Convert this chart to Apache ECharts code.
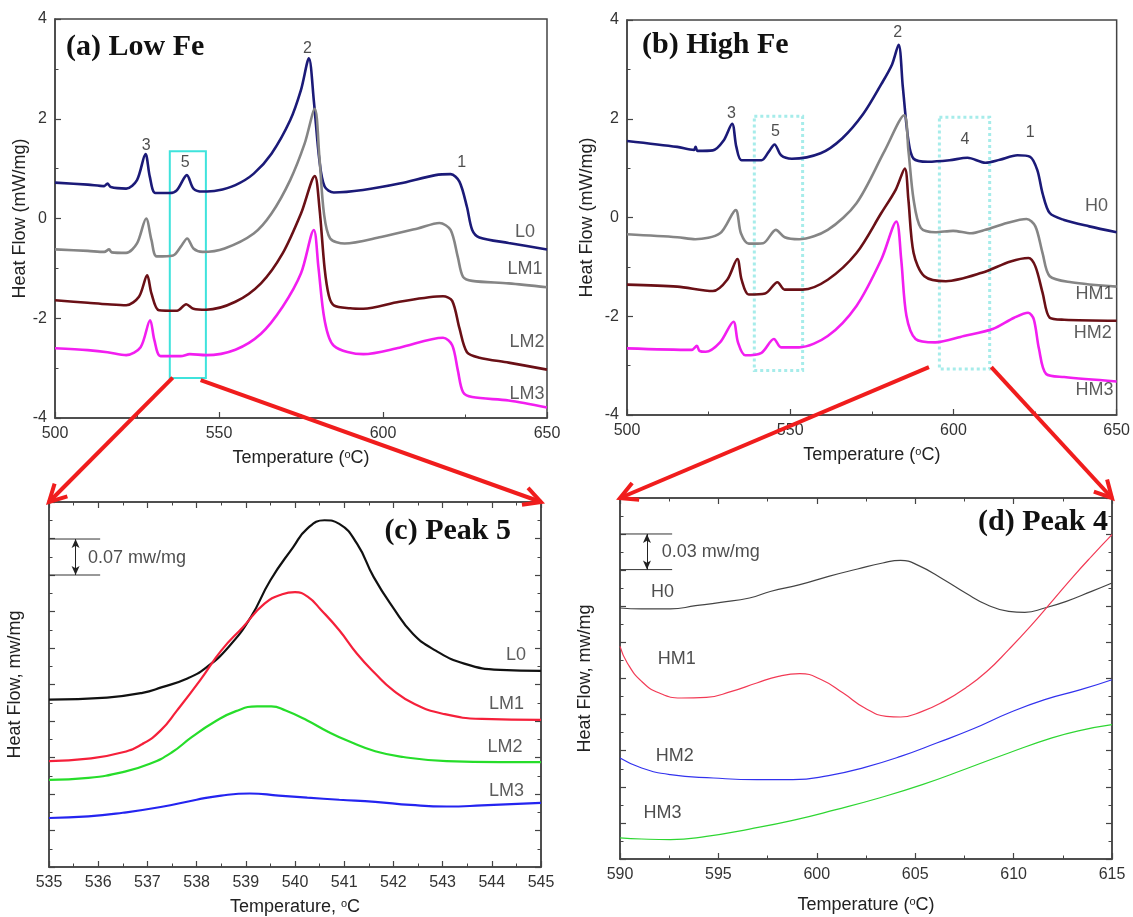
<!DOCTYPE html>
<html>
<head>
<meta charset="utf-8">
<script src="https://cdn.jsdelivr.net/npm/echarts@6/dist/echarts.min.js"></script>
<style>
html, body { margin: 0; padding: 0; background: #fff; }
#main { width: 1133px; height: 917px; }
</style>
</head>
<body>
<div id="main"></div>
<script>
// (a) Low Fe  -- [temperature °C, heat flow mW/mg]
const aL0 = [[500,0.72],[510,0.68],[515,0.65],[516,0.7],[517,0.63],[521.7,0.6],[525,0.77],[527.6,1.29],[528.9,0.84],[530.6,0.51],[535,0.51],[537.2,0.57],[540.2,0.87],[542.2,0.6],[545,0.54],[549.4,0.56],[555,0.67],[560.6,0.9],[566,1.3],[571.7,1.97],[575,2.58],[577.4,3.21],[578.9,2.37],[580.6,1.17],[582.2,0.64],[585,0.52],[593.9,0.57],[605,0.7],[616,0.87],[620.6,0.89],[623.3,0.74],[625.6,0.23],[627.2,-0.23],[629.4,-0.38],[638.3,-0.49],[650,-0.62]];
const aLM1 = [[500,-0.62],[510,-0.65],[515,-0.67],[516.5,-0.62],[517.3,-0.68],[521.7,-0.69],[525,-0.5],[527.8,0.0],[529.4,-0.43],[531,-0.76],[536,-0.74],[538.3,-0.57],[540.3,-0.4],[542.2,-0.6],[545,-0.67],[551.7,-0.6],[560.6,-0.3],[566,0.1],[571.7,0.77],[576.1,1.5],[579.2,2.2],[580.6,1.24],[582,0.1],[583.9,-0.4],[588.3,-0.5],[599.4,-0.37],[610.6,-0.2],[617.2,-0.09],[620.6,-0.23],[622.8,-0.77],[624.4,-1.17],[627.2,-1.25],[638.3,-1.3],[650,-1.38]];
const aLM2 = [[500,-1.64],[510,-1.69],[516,-1.72],[521.7,-1.74],[525.6,-1.57],[528.1,-1.14],[529.4,-1.5],[531.7,-1.84],[537.2,-1.85],[540,-1.72],[542.2,-1.81],[546.1,-1.83],[555,-1.67],[562.8,-1.3],[569.4,-0.7],[575,0.1],[579.2,0.85],[580.6,0.23],[582.2,-1.0],[583.5,-1.55],[585,-1.74],[590,-1.8],[594,-1.81],[605,-1.67],[618.3,-1.56],[621.1,-1.65],[623.3,-2.2],[625.6,-2.68],[629.4,-2.79],[638.3,-2.89],[650,-3.03]];
const aLM3 = [[500,-2.6],[510,-2.64],[516,-2.68],[521.7,-2.74],[526.1,-2.58],[529,-2.04],[530.3,-2.44],[532.2,-2.76],[538.3,-2.76],[541.1,-2.72],[546.1,-2.74],[555,-2.63],[562.8,-2.31],[569.4,-1.77],[575,-1.1],[578.9,-0.23],[580.3,-0.97],[582.2,-2.04],[585,-2.55],[594,-2.72],[605,-2.59],[618.3,-2.39],[621.1,-2.54],[622.8,-3.04],[624.4,-3.48],[627.2,-3.58],[638.3,-3.65],[650,-3.79]];

// (b) High Fe
const bH0 = [[500,1.55],[515.4,1.43],[520.5,1.37],[521,1.43],[521.6,1.35],[526.3,1.36],[529.6,1.56],[532.2,1.9],[533.5,1.43],[535.1,1.16],[541.2,1.16],[543.4,1.33],[545.2,1.48],[547.2,1.26],[550.5,1.19],[559.3,1.3],[565.9,1.6],[572.4,2.1],[577.9,2.7],[581.2,3.1],[583.2,3.5],[584.5,2.64],[586.2,1.56],[587.8,1.19],[592.2,1.13],[598.8,1.16],[604.3,1.21],[609.8,1.11],[614.2,1.17],[619.6,1.26],[623.5,1.23],[625.7,0.96],[627.3,0.49],[629.5,0.09],[633.9,-0.05],[641.6,-0.18],[650,-0.3]];
const bHM1 = [[500,-0.34],[515.4,-0.4],[520.9,-0.44],[528.5,-0.32],[533.3,0.15],[534.9,-0.32],[537.3,-0.53],[541.7,-0.52],[545.6,-0.25],[548.3,-0.4],[552.7,-0.44],[561.5,-0.25],[570.3,0.29],[579,1.36],[584.9,2.07],[586.2,1.36],[587.8,0.36],[590,-0.21],[594.4,-0.3],[599.9,-0.27],[605.4,-0.32],[609.8,-0.25],[616.4,-0.11],[622.4,-0.03],[625.1,-0.18],[627.3,-0.72],[629.5,-1.19],[636.1,-1.31],[650,-1.4]];
const bHM2 = [[500,-1.36],[515.4,-1.4],[526.3,-1.49],[530.7,-1.26],[533.8,-0.84],[535.1,-1.26],[537.3,-1.56],[542.3,-1.54],[546.1,-1.31],[548.3,-1.46],[553.8,-1.46],[561.5,-1.26],[570.3,-0.72],[577.9,0.09],[582.3,0.56],[585.1,0.99],[586.2,0.36],[587.8,-0.72],[591.1,-1.19],[597.7,-1.29],[608.7,-1.12],[617.5,-0.89],[623,-0.82],[625.1,-0.99],[627.3,-1.52],[629.5,-2.03],[633.9,-2.07],[650,-2.09]];
const bHM3 = [[500,-2.65],[519.8,-2.68],[521.4,-2.6],[522.2,-2.7],[524.1,-2.72],[528.5,-2.53],[532.6,-2.11],[534,-2.53],[536.2,-2.79],[541.2,-2.74],[545,-2.46],[547.2,-2.63],[552.7,-2.63],[561.5,-2.4],[570.3,-1.79],[577.9,-0.85],[582.5,-0.08],[584,-0.85],[585.6,-1.99],[588.4,-2.46],[594.4,-2.53],[603.2,-2.4],[612,-2.26],[618.6,-2.03],[622.9,-1.93],[624.6,-2.06],[626.2,-2.66],[628.4,-3.17],[633.9,-3.23],[650,-3.32]];

// (c) Peak 5 (offset curves)
const cL0 = [[535,0.321],[536.18,0.325],[536.9,0.334],[537.3,0.345],[537.8,0.361],[538.2,0.383],[538.65,0.422],[539.1,0.479],[539.5,0.55],[539.96,0.613],[540.25,0.649],[540.6,0.665],[540.9,0.658],[541.26,0.62],[541.6,0.556],[541.99,0.498],[542.4,0.447],[542.86,0.415],[543.44,0.39],[544.17,0.378],[545,0.376]];
const cLM1 = [[535,0.203],[535.8,0.208],[536.5,0.22],[536.9,0.236],[537.27,0.262],[537.6,0.3],[538.07,0.358],[538.5,0.415],[538.94,0.46],[539.38,0.505],[539.74,0.523],[540,0.527],[540.25,0.519],[540.54,0.492],[540.9,0.454],[541.26,0.409],[541.63,0.371],[541.99,0.339],[542.42,0.313],[543,0.294],[543.8,0.284],[545,0.282]];
const cLM2 = [[535,0.167],[535.8,0.171],[536.5,0.182],[537.05,0.198],[537.5,0.22],[537.9,0.249],[538.36,0.278],[538.8,0.299],[539.23,0.308],[539.52,0.308],[539.81,0.3],[540.25,0.281],[540.68,0.259],[541.12,0.24],[541.63,0.222],[542.2,0.211],[543.08,0.203],[544.17,0.201],[545,0.201]];
const cLM3 = [[535,0.094],[535.8,0.097],[536.5,0.104],[537.27,0.115],[538,0.129],[538.5,0.137],[539.08,0.141],[539.67,0.137],[540.25,0.133],[540.9,0.129],[541.63,0.125],[542.35,0.119],[543.08,0.116],[543.8,0.118],[545,0.123]];

// (d) Peak 4 (offset curves)
const dH0 = [[590,0.2086],[591.1,0.2078],[592.56,0.2078],[593.84,0.2105],[595.12,0.2133],[596.58,0.2169],[597.68,0.2225],[599.14,0.228],[600.6,0.2349],[602.07,0.241],[603.35,0.246],[604.26,0.2482],[605.18,0.2438],[606.46,0.2321],[607.56,0.221],[608.65,0.2113],[609.75,0.2058],[610.57,0.205],[611.58,0.2086],[612.68,0.2141],[613.96,0.2224],[615,0.2294]];
const dHM1 = [[590,0.1767],[590.37,0.1629],[591.1,0.1476],[592,0.1379],[593.1,0.1338],[594.39,0.1343],[595.67,0.1393],[596.95,0.1463],[598.05,0.1518],[599.14,0.154],[600.24,0.149],[601.34,0.1379],[602.44,0.1255],[603.53,0.1186],[604.26,0.118],[605.36,0.1227],[606.46,0.131],[607.56,0.1421],[608.65,0.156],[609.75,0.174],[610.85,0.1933],[611.95,0.2141],[613.04,0.2349],[613.96,0.2515],[615,0.2695]];
const dHM2 = [[590,0.0839],[591.1,0.0756],[592.56,0.0701],[594.75,0.0673],[596.95,0.0659],[598.78,0.0659],[600.6,0.0693],[602.44,0.0762],[604.26,0.0853],[606.09,0.0964],[607.92,0.108],[609.75,0.1213],[611.58,0.1324],[613.41,0.1407],[615,0.149]];
const dHM3 = [[590,0.0175],[591.1,0.0166],[592.56,0.0161],[594.39,0.0188],[596.58,0.0249],[598.78,0.0321],[600.97,0.041],[603.17,0.0507],[605.36,0.0618],[607.56,0.0748],[609.75,0.0881],[611.95,0.1006],[613.41,0.1069],[615,0.1116]];

// text tags [text, x, y]
const aTags = [['L0',643.3,-0.28],['LM1',643.3,-1.02],['LM2',643.9,-2.47],['LM3',643.9,-3.51]];
const aPeaks = [['3',527.8,1.47],['5',539.7,1.12],['2',577,3.41],['1',624,1.12]];
const bTags = [['H0',643.8,0.23],['HM1',643.2,-1.54],['HM2',642.7,-2.33],['HM3',643.2,-3.5]];
const bPeaks = [['3',532,2.1],['5',545.5,1.75],['2',582.9,3.75],['4',603.5,1.58],['1',623.5,1.71]];
const cTags = [['L0',544.49,0.406],['LM1',544.3,0.313],['LM2',544.27,0.23],['LM3',544.3,0.145]];
const dTags = [['H0',592.16,0.2216],['HM1',592.89,0.166],['HM2',592.78,0.0853],['HM3',592.16,0.0382]];

// zoom windows [x0, y0, x1, y1]
const aBox5 = [535, 1.35, 546, -3.2];
const bBox5 = [539, 2.05, 553.8, -3.1];
const bBox4 = [595.7, 2.03, 611.1, -3.07];

// scale bars: [x0, x1, xArrow, yTop, yBottom, textX, textY]
const cBar = [535, 536.04, 535.54, 0.629, 0.560, 535.78, 0.593];
const dBar = [590, 592.65, 591.37, 0.2701, 0.2405, 592.1, 0.2548];

// red zoom arrows: [fromGrid, x, y, toGrid, x, y]
const zoomArrows = [
  [0, 535.9, -3.19, 2, 535, 0.7],
  [0, 544.4, -3.24, 2, 545, 0.7],
  [1, 592.5, -3.03, 3, 590, 0.3],
  [1, 611.6, -3.03, 3, 615, 0.3]
];

const SANS = 'Liberation Sans';
const SERIF = 'Liberation Serif';
const AX = '#444';

const chart = echarts.init(document.getElementById('main'));

function axis(gi, min, max, interval, extra) {
  return Object.assign({
    type: 'value', gridIndex: gi, min: min, max: max, interval: interval,
    axisLine: { show: true, onZero: false, lineStyle: { color: AX, width: 1.5 } },
    axisTick: { show: true, inside: true, length: 6, lineStyle: { color: AX, width: 1.2 } },
    minorTick: { show: true, splitNumber: 2, length: 3.5, lineStyle: { color: AX, width: 1 } },
    splitLine: { show: false },
    axisLabel: { color: '#333', fontSize: 16, fontFamily: SANS, margin: 8 },
    nameLocation: 'middle',
    nameTextStyle: { color: '#222', fontSize: 18, fontFamily: SANS,
      rich: { s: { fontSize: 11, fontFamily: SANS, color: '#222', verticalAlign: 'top' } } }
  }, extra);
}
const noLab = { axisLabel: { show: false } };

const xAxes = [
  axis(0, 500, 650, 50, { name: 'Temperature ({s|o}C)', nameGap: 31 }),
  axis(1, 500, 650, 50, { name: 'Temperature ({s|o}C)', nameGap: 31 }),
  axis(2, 535, 545, 1, { name: 'Temperature, {s|o}C', nameGap: 31 }),
  axis(3, 590, 615, 5, { name: 'Temperature ({s|o}C)', nameGap: 37 }),
  axis(2, 535, 545, 1, Object.assign({ position: 'top' }, noLab)),
  axis(3, 590, 615, 5, Object.assign({ position: 'top' }, noLab))
];
const yAxes = [
  axis(0, -4, 4, 2, { name: 'Heat Flow (mW/mg)', nameGap: 26 }),
  axis(1, -4, 4, 2, { name: 'Heat Flow (mW/mg)', nameGap: 31 }),
  axis(2, 0, 0.7, 0.07, Object.assign({ name: 'Heat Flow, mw/mg', nameGap: 25 }, noLab)),
  axis(3, 0, 0.3, 0.03, Object.assign({ name: 'Heat Flow, mw/mg', nameGap: 26 }, noLab)),
  axis(2, 0, 0.7, 0.07, Object.assign({ position: 'right' }, noLab)),
  axis(3, 0, 0.3, 0.03, Object.assign({ position: 'right' }, noLab))
];

const series = [];
function curve(data, color, gi, width, smooth, extra) {
  series.push(Object.assign({
    type: 'line', data: data, xAxisIndex: gi, yAxisIndex: gi,
    showSymbol: false, symbol: 'none', smooth: smooth,
    lineStyle: { color: color, width: width }, silent: true, z: 3
  }, extra || {}));
}
function tags(list, gi, size, color) {
  series.push({
    type: 'scatter', xAxisIndex: gi, yAxisIndex: gi, symbolSize: 1, silent: true, z: 5,
    itemStyle: { color: 'transparent' },
    data: list.map(t => ({ value: [t[1], t[2]], name: t[0] })),
    label: { show: true, position: 'inside', formatter: p => p.name,
      fontSize: size, color: color, fontFamily: SANS }
  });
}
function boxArea(b) {
  return [[{ coord: [b[0], b[1]] }, { coord: [b[2], b[3]] }]];
}
function scaleBar(bar, gi, text) {
  const ln = { color: '#333', width: 1 };
  series.push({ type: 'line', xAxisIndex: gi, yAxisIndex: gi, symbol: 'none', silent: true,
    data: [[bar[0], bar[3]], [bar[1], bar[3]]], lineStyle: ln,
    markLine: { silent: true, symbol: ['arrow', 'arrow'], symbolSize: [6, 9], label: { show: false },
      lineStyle: { color: '#222', width: 1, type: 'solid' },
      data: [[{ coord: [bar[2], bar[3]] }, { coord: [bar[2], bar[4]] }]] } });
  series.push({ type: 'line', xAxisIndex: gi, yAxisIndex: gi, symbol: 'none', silent: true,
    data: [[bar[0], bar[4]], [bar[1], bar[4]]], lineStyle: ln });
  series.push({ type: 'scatter', xAxisIndex: gi, yAxisIndex: gi, symbolSize: 1, silent: true,
    itemStyle: { color: 'transparent' },
    data: [{ value: [bar[5], bar[6]], name: text }],
    label: { show: true, position: 'right', distance: 0, formatter: p => p.name,
      fontSize: 18, color: '#222', fontFamily: SANS } });
}

// (a)
curve(aL0, '#1b1a78', 0, 2.6, 0.3, {
  markArea: { silent: true, itemStyle: { color: 'rgba(0,0,0,0)', borderColor: '#3fe3dc', borderWidth: 2 },
    data: boxArea(aBox5) } });
curve(aLM1, '#858585', 0, 2.6, 0.3);
curve(aLM2, '#6a1016', 0, 2.6, 0.3);
curve(aLM3, '#f21ef0', 0, 2.6, 0.3);
tags(aTags, 0, 18, '#333');
tags(aPeaks, 0, 16, '#222');

// (b)
curve(bH0, '#1b1a78', 1, 2.6, 0.3, {
  markArea: { silent: true,
    itemStyle: { color: 'rgba(0,0,0,0)', borderColor: '#a6ecea', borderWidth: 3, borderType: 'dotted' },
    data: boxArea(bBox5).concat(boxArea(bBox4)) } });
curve(bHM1, '#858585', 1, 2.6, 0.3);
curve(bHM2, '#6a1016', 1, 2.6, 0.3);
curve(bHM3, '#f21ef0', 1, 2.6, 0.3);
tags(bTags, 1, 18, '#333');
tags(bPeaks, 1, 16, '#222');

// (c)
curve(cL0, '#111111', 2, 2.2, 0.5);
curve(cLM1, '#f5203a', 2, 2.2, 0.5);
curve(cLM2, '#26dd2a', 2, 2.2, 0.5);
curve(cLM3, '#2424f0', 2, 2.2, 0.5);
tags(cTags, 2, 18, '#333');
scaleBar(cBar, 2, '0.07 mw/mg');

// (d)
curve(dH0, '#444444', 3, 1.2, 0.5);
curve(dHM1, '#f23a55', 3, 1.2, 0.5);
curve(dHM2, '#3232ee', 3, 1.2, 0.5);
curve(dHM3, '#2ed632', 3, 1.2, 0.5);
tags(dTags, 3, 18, '#222');
scaleBar(dBar, 3, '0.03 mw/mg');

const titleStyle = { fontFamily: SERIF, fontWeight: 'bold', fontSize: 30, color: '#111' };

chart.setOption({
  animation: false,
  backgroundColor: '#fff',
  title: [
    { text: '(a) Low Fe', left: 66, top: 32, padding: 0, textStyle: titleStyle },
    { text: '(b) High Fe', left: 642, top: 30, padding: 0, textStyle: titleStyle },
    { text: '(c) Peak 5', right: 622, top: 516, padding: 0, textStyle: titleStyle },
    { text: '(d) Peak 4', right: 25, top: 507, padding: 0, textStyle: titleStyle }
  ],
  grid: [
    { left: 55, top: 19, width: 492, height: 399, show: true, borderColor: AX, borderWidth: 1.5, backgroundColor: 'transparent' },
    { left: 627, top: 20, width: 491, height: 395, show: true, borderColor: AX, borderWidth: 1.5, backgroundColor: 'transparent' },
    { left: 49, top: 502, width: 492, height: 365, show: true, borderColor: AX, borderWidth: 1.5, backgroundColor: 'transparent' },
    { left: 620, top: 498, width: 492, height: 361, show: true, borderColor: AX, borderWidth: 1.5, backgroundColor: 'transparent' }
  ],
  xAxis: xAxes,
  yAxis: yAxes,
  series: series
});

// red arrows from the boxed windows to the zoomed panels
const RED = '#f01d1d';
const graphics = [];
zoomArrows.forEach(a => {
  const p0 = chart.convertToPixel({ gridIndex: a[0] }, [a[1], a[2]]);
  const p1 = chart.convertToPixel({ gridIndex: a[3] }, [a[4], a[5]]);
  const dx = p1[0] - p0[0], dy = p1[1] - p0[1];
  const len = Math.sqrt(dx * dx + dy * dy);
  const ux = dx / len, uy = dy / len;
  const h = 17, w = 9;
  const bx = p1[0] - ux * h, by = p1[1] - uy * h;
  graphics.push({ type: 'line', z: 100, silent: true,
    shape: { x1: p0[0], y1: p0[1], x2: p1[0], y2: p1[1] },
    style: { stroke: RED, lineWidth: 4 } });
  graphics.push({ type: 'polyline', z: 100, silent: true,
    shape: { points: [[bx - uy * w, by + ux * w], [p1[0], p1[1]], [bx + uy * w, by - ux * w]] },
    style: { stroke: RED, lineWidth: 4, fill: null, lineJoin: 'miter' } });
});
chart.setOption({ graphic: graphics });
</script>
</body>
</html>
